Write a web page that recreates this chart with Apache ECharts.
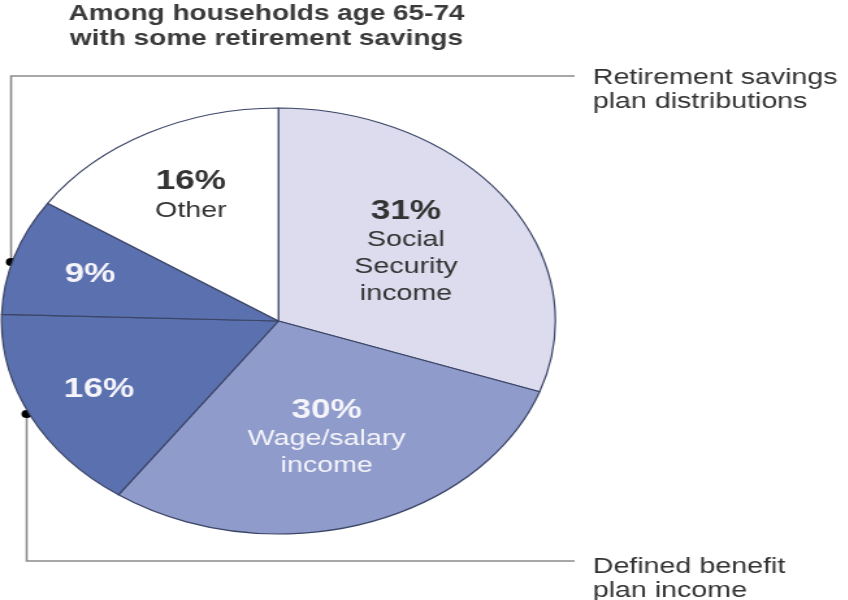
<!DOCTYPE html>
<html>
<head>
<meta charset="utf-8">
<script src="https://cdn.jsdelivr.net/npm/echarts@6/dist/echarts.min.js"></script>
<style>
  html, body { margin: 0; padding: 0; background: #fff; overflow: hidden; }
  #wrap { width: 848px; height: 600px; overflow: hidden; }
  /* the chart is drawn narrower and widened, so the pie becomes an ellipse */
  #chart { width: 652px; height: 600px; transform: scaleX(1.3); transform-origin: 0 0; }
</style>
</head>
<body>
<div id="wrap"><div id="chart"></div></div>
<script>
const titleLines = ['Among households age 65-74', 'with some retirement savings'];
const categories = ['Social Security income', 'Wage/salary income', 'Defined benefit plan income', 'Retirement savings plan distributions', 'Other'];
const shares = [31, 30, 16, 9, 16];
const labelNames = ['Social\nSecurity\nincome', 'Wage/salary\nincome', '', '', 'Other'];
const sliceColors = ['#dcdcee', '#8f9bcb', '#5b70ae', '#5b70ae', '#ffffff'];
const labelColors = ['#333333', '#f4f4fa', '#f4f4fa', '#f4f4fa', '#333333'];
// how far out each label sits, as a fraction of the radius
const labelDepth = [0.55, 0.56, 0.71, 0.70, 0.655];
const calloutTop = ['Retirement savings', 'plan distributions'];
const calloutBottom = ['Defined benefit', 'plan income'];

const R = 213;
const CX = 214.2;
const CY = 321;
const FONT = 'Liberation Sans';

function labelText(i) {
  const lines = labelNames[i] ? labelNames[i].split('\n') : [];
  return ['{p|' + shares[i] + '%}'].concat(lines.map(l => '{n|' + l + '}')).join('\n');
}

function labelRich(color) {
  return {
    p: { fontFamily: FONT, fontWeight: 'bold', fontSize: 27, color: color, lineHeight: 30 },
    n: { fontFamily: FONT, fontSize: 22, color: color, lineHeight: 27 }
  };
}

// the slices themselves
const slicesSeries = {
  type: 'pie',
  center: [CX, CY],
  radius: [0, R],
  startAngle: 90,
  clockwise: true,
  silent: true,
  label: { show: false },
  labelLine: { show: false },
  itemStyle: { borderColor: '#3b4566', borderWidth: 1.2 },
  data: shares.map((v, i) => ({ name: categories[i], value: v, itemStyle: { color: sliceColors[i] } }))
};

// one transparent ring per slice carries that slice's label; an inside label
// sits halfway out, so the ring radius is twice the wanted label depth
const labelSeries = shares.map((_, k) => ({
  type: 'pie',
  center: [CX, CY],
  radius: [0, R * labelDepth[k] * 2],
  startAngle: 90,
  clockwise: true,
  silent: true,
  labelLine: { show: false },
  data: shares.map((v, i) => ({
    name: categories[i],
    value: v,
    itemStyle: { color: 'rgba(0,0,0,0)', borderWidth: 0 },
    label: {
      show: i === k,
      position: 'inside',
      formatter: labelText(i),
      rich: labelRich(labelColors[i])
    }
  }))
}));

const chart = echarts.init(document.getElementById('chart'), null, { renderer: 'canvas' });

const grey = '#8a8a8a';
const calloutStyle = { fontFamily: FONT, fontSize: 22, lineHeight: 24, fill: '#333' };
const option = {
  animation: false,
  title: {
    text: titleLines.join('\n'),
    left: 200,
    top: -3,
    textAlign: 'center',
    textStyle: { fontFamily: FONT, fontWeight: 'bold', fontSize: 21.5, lineHeight: 25, color: '#3a3a3a' }
  },
  series: [slicesSeries].concat(labelSeries),
  graphic: [
    {
      type: 'polyline', silent: true,
      shape: { points: [[8.5, 262], [8.5, 76], [442, 76]] },
      style: { stroke: grey, lineWidth: 1.6, fill: null }
    },
    {
      type: 'polyline', silent: true,
      shape: { points: [[20.5, 414], [20.5, 561], [442, 561]] },
      style: { stroke: grey, lineWidth: 1.6, fill: null }
    },
    { type: 'circle', silent: true, shape: { cx: 8.5, cy: 262, r: 4 }, style: { fill: '#000' } },
    { type: 'circle', silent: true, shape: { cx: 20.5, cy: 414, r: 4 }, style: { fill: '#000' } },
    {
      type: 'text', silent: true, left: 456, top: 66,
      style: Object.assign({ text: calloutTop.join('\n') }, calloutStyle)
    },
    {
      type: 'text', silent: true, left: 456, top: 555,
      style: Object.assign({ text: calloutBottom.join('\n') }, calloutStyle)
    }
  ]
};
chart.setOption(option);
</script>
</body>
</html>
